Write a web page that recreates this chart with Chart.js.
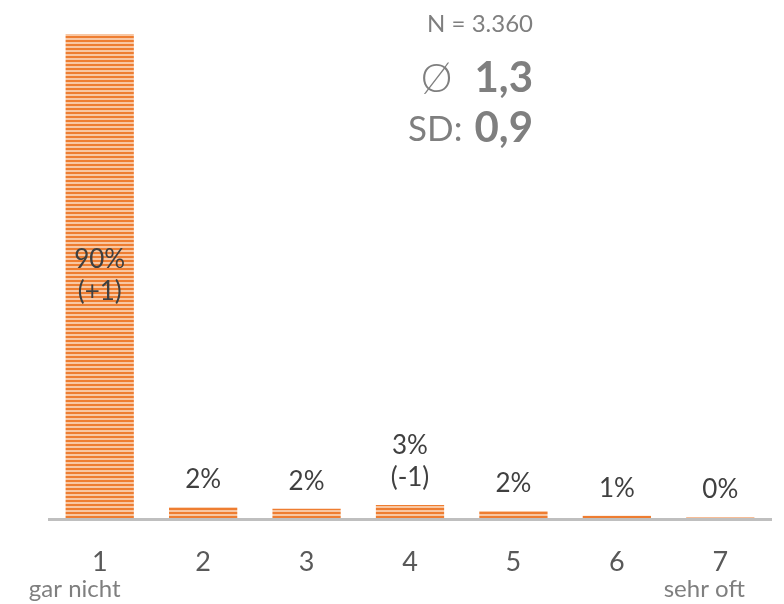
<!DOCTYPE html>
<html>
<head>
<meta charset="utf-8">
<script src="https://cdn.jsdelivr.net/npm/chart.js@4"></script>
<style>
    html, body { margin: 0; padding: 0; background: #fff; }
    #wrap { width: 784px; height: 604px; }
</style>
</head>
<body>
<div id="wrap"><canvas id="chartVerteilung"></canvas></div>
<script>
// Daten
var kategorien   = ['1', '2', '3', '4', '5', '6', '7'];
var anteile      = [90, 2.0, 1.7, 2.4, 1.3, 0.4, 0.1];
var anteilLabels = ['90%', '2%', '2%', '3%', '2%', '1%', '0%'];
var veraenderung = ['(+1)', '', '', '(-1)', '', '', ''];
var skalenEnden  = ['gar nicht', '', '', '', '', '', 'sehr oft'];
var kennzahlN    = '3.360';
var mittelwert   = '1,3';
var standardabw  = '0,9';

var FONT = 'Lato, "Open Sans", sans-serif';

// Streifenmuster der Balken
function streifen(){
    var c = document.createElement('canvas');
    c.width = 4; c.height = 4;
    var g = c.getContext('2d');
    g.fillStyle = '#F8C7A3';
    g.fillRect(0, 0, 4, 4);
    g.fillStyle = '#EE7D31';
    g.fillRect(0, 0, 4, 2);
    return g.createPattern(c, 'repeat');
}

var beschriftung = {
    id: 'beschriftung',
    afterDatasetsDraw: function(chart){
        var ctx = chart.ctx, a = chart.chartArea, x = chart.scales.x;
        ctx.save();

        // Grundlinie
        ctx.fillStyle = '#BFBFBF';
        ctx.fillRect(a.left, a.bottom, a.right - a.left, 3);

        // Achsenbeschriftung
        ctx.textAlign = 'center';
        ctx.textBaseline = 'alphabetic';
        kategorien.forEach(function(k, i){
            var px = x.getPixelForValue(i);
            ctx.fillStyle = '#595959';
            ctx.font = '27px ' + FONT;
            ctx.fillText(k, px, 571);
            if (skalenEnden[i]) {
                ctx.fillStyle = '#7F7F7F';
                ctx.font = '24px ' + FONT;
                ctx.fillText(skalenEnden[i], px + (i === 0 ? -25 : -16), 597);
            }
        });

        // Werte
        ctx.fillStyle = '#404040';
        ctx.font = '26px ' + FONT;
        chart.getDatasetMeta(0).data.forEach(function(bar, i){
            if (i === 0) {
                var mitte = (bar.y + bar.base) / 2;
                ctx.fillText(anteilLabels[i], bar.x, mitte - 8);
                ctx.fillText(veraenderung[i], bar.x, mitte + 24);
            } else {
                var y = bar.y - 19;
                if (veraenderung[i]) {
                    ctx.fillText(veraenderung[i], bar.x, y);
                    y -= 32;
                }
                ctx.fillText(anteilLabels[i], bar.x, y);
            }
        });

        // Kennzahlen oben rechts
        ctx.fillStyle = '#7F7F7F';
        ctx.textAlign = 'right';
        ctx.font = '24px ' + FONT;
        ctx.fillText('N = ' + kennzahlN, 533, 32);

        ctx.font = 'bold 42px ' + FONT;
        ctx.fillText(mittelwert, 533, 92);
        var w = ctx.measureText(mittelwert).width;
        ctx.font = '300 40px ' + FONT;
        ctx.fillText('\u00D8', 533 - w - 22, 92);

        ctx.font = 'bold 42px ' + FONT;
        ctx.fillText(standardabw, 533, 142);
        w = ctx.measureText(standardabw).width;
        ctx.font = '35px ' + FONT;
        ctx.fillText('SD:', 533 - w - 12, 141);

        ctx.restore();
    }
};

var ctx = document.getElementById('chartVerteilung').getContext('2d');
var chart = new Chart(ctx, {
    type: 'bar',
    data: {
        labels: kategorien,
        datasets: [{
            data: anteile,
            backgroundColor: streifen(),
            borderWidth: 0,
            categoryPercentage: 1,
            barPercentage: 0.66
        }]
    },
    options: {
        responsive: true,
        maintainAspectRatio: false,
        animation: false,
        layout: { padding: { left: 48, right: 12, top: 0, bottom: 86 } },
        plugins: { legend: { display: false }, tooltip: { enabled: false } },
        scales: {
            x: { display: false },
            y: { display: false, min: 0, max: 96.3 }
        }
    },
    plugins: [beschriftung]
});
</script>
</body>
</html>
